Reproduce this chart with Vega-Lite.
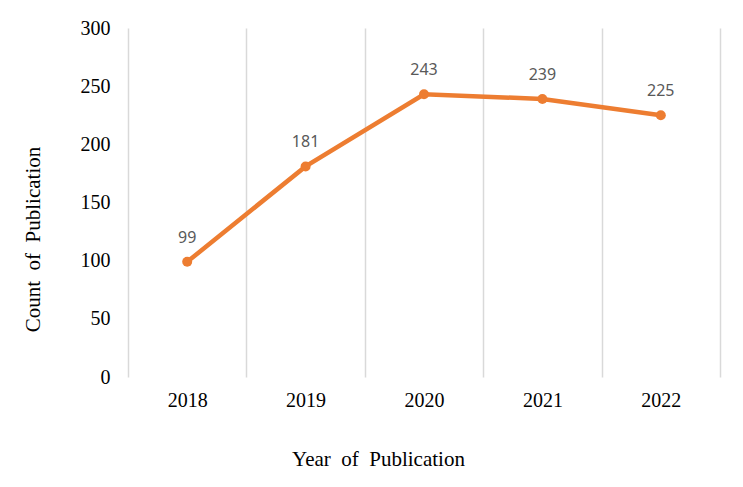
{
  "$schema": "https://vega.github.io/schema/vega-lite/v6.json",
  "width": 592,
  "height": 349,
  "autosize": {"type": "none"},
  "padding": {"left": 128, "top": 28, "right": 23, "bottom": 110},
  "background": "white",
  "config": {"view": {"stroke": null}},
  "data": {"values": [
    {"year": 2018, "count": 99},
    {"year": 2019, "count": 181},
    {"year": 2020, "count": 243},
    {"year": 2021, "count": 239},
    {"year": 2022, "count": 225}
  ]},
  "encoding": {
    "x": {
      "field": "year", "type": "quantitative",
      "scale": {"domain": [2017.5, 2022.5], "nice": false, "zero": false},
      "axis": {
        "values": [2017.5, 2018, 2018.5, 2019, 2019.5, 2020, 2020.5, 2021, 2021.5, 2022, 2022.5],
        "labelExpr": "datum.value % 1 === 0 ? datum.value : ''",
        "labelOverlap": false,
        "grid": true,
        "gridColor": "#d9d9d9",
        "gridWidth": 1.5,
        "gridOpacity": {"condition": {"test": "datum.value % 1 === 0", "value": 0}, "value": 1},
        "domain": false,
        "ticks": false,
        "labelFont": "Liberation Serif",
        "labelFontSize": 20,
        "labelColor": "#000000",
        "labelPadding": 13,
        "title": "Year\u00a0 of\u00a0 Publication",
        "titleFont": "Liberation Serif",
        "titleFontSize": 21,
        "titleFontWeight": "normal",
        "titleColor": "#000000",
        "titleX": 250,
        "titleY": 82,
        "titleAlign": "center",
        "titleBaseline": "middle"
      }
    },
    "y": {
      "field": "count", "type": "quantitative",
      "scale": {"domain": [0, 300], "nice": false},
      "axis": {
        "values": [0, 50, 100, 150, 200, 250, 300],
        "grid": false,
        "domain": false,
        "ticks": false,
        "labelFont": "Liberation Serif",
        "labelFontSize": 20,
        "labelColor": "#000000",
        "labelPadding": 18,
        "title": "Count\u00a0 of\u00a0 Publication",
        "titleFont": "Liberation Serif",
        "titleFontSize": 21,
        "titleFontWeight": "normal",
        "titleColor": "#000000",
        "titleAngle": -90,
        "titleX": -95,
        "titleY": 211,
        "titleAlign": "center",
        "titleBaseline": "middle"
      }
    }
  },
  "layer": [
    {"mark": {"type": "line", "color": "#ED7D31", "strokeWidth": 4.5}},
    {"mark": {"type": "point", "filled": true, "color": "#ED7D31", "opacity": 1, "size": 100}},
    {
      "mark": {"type": "text", "dy": -24, "font": "Noto Sans", "fontSize": 16, "color": "#595959"},
      "encoding": {"text": {"field": "count", "type": "quantitative"}}
    }
  ]
}
